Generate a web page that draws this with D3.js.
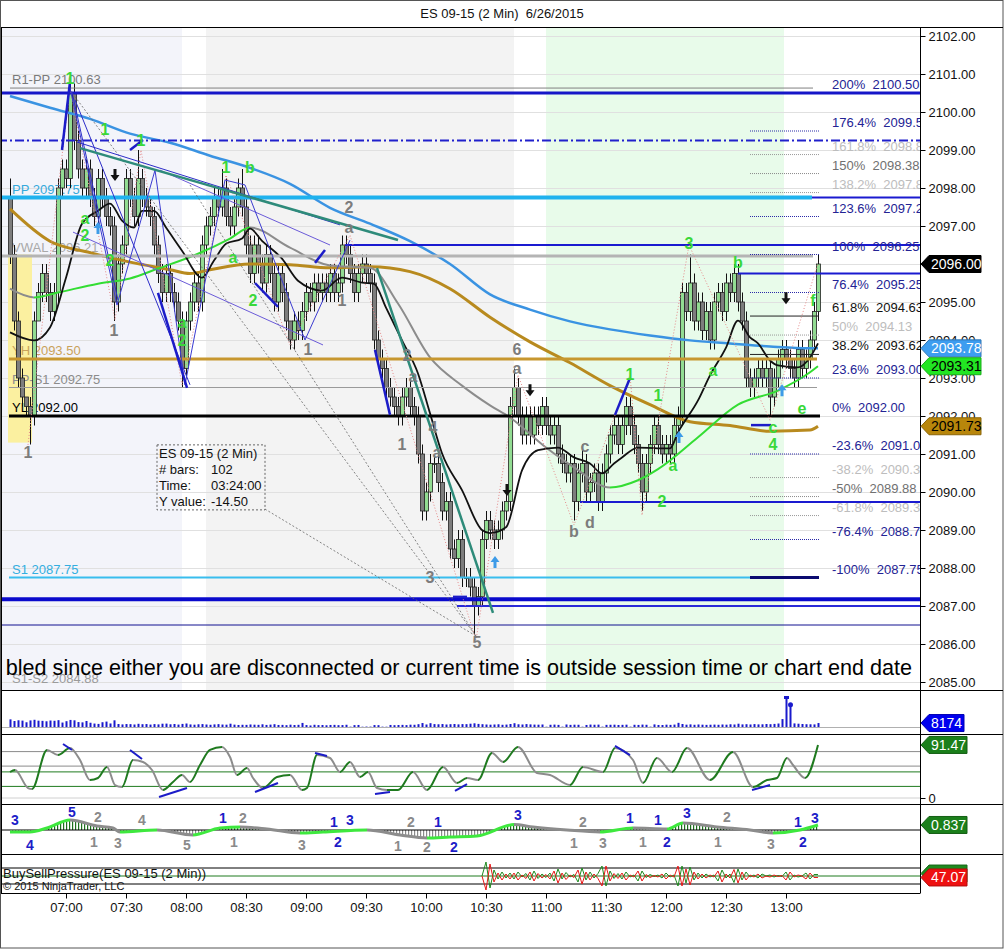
<!DOCTYPE html>
<html><head><meta charset="utf-8">
<script src="https://cdn.jsdelivr.net/npm/d3@7/dist/d3.min.js"></script>
<style>
html,body{margin:0;padding:0;background:#fff;}
svg text{font-family:"Liberation Sans",Arial,sans-serif;}
</style></head><body>
<svg id="chart" width="1004" height="949"></svg>
<script>
// ================= DATA =================
const title = "ES 09-15 (2 Min)  6/26/2015";
const firstBarTime = "06:32";
const barMinutes = 2;
const firstOpen = 2097.75;
const closes = [
2096.25,2094.5,2093.0,2092.5,2092.25,2092.0,2094.5,2095.25,2095.75,2095.25,
2094.75,2095.25,2098.0,2098.5,2098.25,2100.5,2099.25,2098.5,2098.0,2098.5,
2097.75,2097.25,2098.25,2097.75,2097.25,2097.0,2095.0,2096.0,2096.5,2098.25,
2097.75,2097.25,2098.25,2097.75,2097.5,2097.25,2096.5,2095.75,2095.25,2095.75,
2095.25,2095.0,2094.5,2093.25,2094.5,2095.0,2095.5,2095.0,2096.5,2097.0,
2097.25,2097.75,2097.5,2098.0,2097.25,2097.0,2097.5,2098.0,2097.5,2096.5,
2095.75,2096.5,2096.0,2095.5,2096.25,2095.75,2095.0,2095.75,2095.25,2094.5,
2094.0,2094.5,2094.25,2094.75,2095.25,2095.0,2095.5,2095.25,2095.5,2095.25,
2095.75,2095.25,2095.5,2096.5,2096.25,2095.75,2095.25,2095.75,2096.0,2095.75,
2095.5,2094.0,2093.5,2093.25,2092.75,2092.5,2092.25,2092.0,2092.5,2092.75,
2092.25,2092.0,2091.0,2089.5,2090.0,2090.75,2090.75,2090.25,2089.5,2089.75,
2088.5,2088.25,2088.75,2087.75,2087.75,2087.5,2087.0,2087.25,2088.75,2089.25,
2089.0,2088.75,2089.0,2089.5,2089.75,2092.25,2092.75,2092.0,2091.5,2092.0,
2091.5,2092.0,2091.75,2092.25,2091.75,2091.5,2091.75,2091.0,2090.75,2090.5,
2090.75,2089.75,2090.5,2090.75,2090.0,2090.25,2090.5,2089.75,2090.5,2091.0,
2091.5,2091.75,2091.25,2091.75,2092.25,2091.75,2091.25,2090.75,2090.0,2090.75,
2091.25,2091.75,2091.25,2091.0,2091.25,2091.0,2091.75,2092.0,2095.25,2094.75,
2095.5,2094.5,2095.0,2094.25,2094.75,2094.0,2095.0,2095.25,2094.75,2095.5,
2095.25,2095.75,2095.0,2094.5,2093.0,2092.75,2093.0,2093.25,2093.0,2093.25,
2092.5,2093.0,2093.5,2093.75,2093.5,2093.25,2093.0,2093.75,2093.25,2093.5,
2094.0,2094.75,2096.0];
const tickSize = 0.25;
const upWickTicks = [
2,1,1,1,0,1,1,1,1,1, 1,1,1,1,1,1,1,1,1,1, 1,1,1,1,1,1,1,1,1,1, 1,1,3,1,1,1,1,1,1,1,
1,1,1,1,1,1,1,1,1,1, 1,1,1,2,1,1,1,1,2,1, 1,1,1,1,1,1,1,1,1,1, 0,1,1,1,1,1,1,1,1,1,
1,1,1,1,1,1,1,1,1,1, 1,1,1,1,1,1,1,1,1,1, 1,1,1,1,1,1,1,1,1,1, 1,1,1,1,1,1,1,1,1,1,
1,1,1,1,1,1,2,1,1,1, 1,1,1,1,1,1,1,1,1,1, 1,1,1,2,1,1,1,1,1,1, 1,1,1,1,1,1,1,1,1,1,
1,1,1,1,1,1,1,1,1,1, 3,1,1,1,1,1,1,1,1,1, 1,1,1,1,1,1,1,1,1,1, 1,1,1,1,1,1,1,1,1,1, 1,1,1];
const downWickTicks = [
1,1,1,1,1,3,1,0,1,1, 1,1,1,1,1,1,1,1,1,1, 1,1,1,1,1,1,2,1,1,1, 1,1,1,1,1,1,1,1,1,1,
1,1,1,2,1,1,1,1,1,1, 1,1,1,1,1,1,1,1,1,1, 1,1,1,1,1,1,1,1,1,1, 1,1,1,1,1,1,1,1,1,1,
1,1,1,1,1,1,1,1,1,1, 1,1,1,1,1,1,1,1,1,1, 1,1,1,1,1,1,1,1,1,1, 1,1,1,1,1,1,3,1,1,1,
1,1,1,1,1,1,1,1,1,1, 1,1,1,1,1,1,1,1,1,1, 1,2,1,1,1,1,1,1,1,1, 1,1,1,1,1,1,1,1,2,1,
1,1,1,1,1,1,1,1,1,1, 1,1,1,1,1,1,1,1,1,1, 1,1,1,1,1,1,1,1,1,1, 2,1,1,1,1,1,1,1,1,1, 1,1,1];
const volumes = [
15800,12400,13900,13200,9800,13600,14900,13100,12700,11800,
13400,12900,14100,9200,12000,14600,13800,10200,9600,12400,
8800,7100,6400,9900,11200,7300,13800,6200,5400,6100,
5900,5200,6600,5800,6100,5000,6000,5400,6800,7000,
5600,6200,5000,6400,7200,5300,4800,5600,6000,5200,
4600,5400,5900,5100,4800,6800,4900,4200,4600,4400,
5200,4800,4500,5600,4300,4900,5800,4200,4400,3800,
4800,4100,4500,8400,4000,3200,4600,3900,4100,3600,
4200,4400,3800,4000,4600,700,3900,4200,600,900,
800,4000,3800,700,600,4200,3800,4100,4400,3900,
4800,4600,5800,8200,5200,7900,6000,5600,6100,5200,
5800,6200,5400,6000,5900,6800,7600,6400,5800,5200,
4800,5200,5600,4600,5000,6200,7800,5600,5200,6000,
5400,5000,4800,5200,600,4600,5000,4400,700,5200,
4400,4800,4600,600,4200,5000,4700,4900,700,4400,
4600,4800,4200,4500,4800,700,4600,4300,5000,4600,
700,5400,4200,4100,4800,4400,5000,8600,6200,4800,
5400,4600,5200,4800,4400,4700,5000,4600,5200,4800,
5600,5200,6800,5400,5800,5200,6000,5400,5600,6200,
5800,6400,7200,16400,62000,46000,7400,6800,6200,5800,
5600,5400,8174];

// moving averages (read at sample bars)
const slowMaPos = [0,10,20,30,40,50,60,70,80,90,100,110,120,130,140,150,160,170,180,190,200,202];
const slowMaVal = [2100.42,2100.11,2099.82,2099.43,2099.19,2098.85,2098.53,2098.11,2097.48,2097.06,2096.6,2096.0,2095.2,2094.8,2094.49,2094.28,2094.12,2093.99,2093.91,2093.83,2093.78,2093.78];
const goldMaPos = [0,10,20,30,40,45,50,60,70,80,90,100,110,120,130,140,150,160,170,180,190,200,202];
const goldMaVal = [2097.45,2096.6,2096.3,2096.05,2095.85,2095.75,2095.85,2096.0,2095.98,2095.9,2095.93,2095.8,2095.35,2094.6,2093.95,2093.4,2092.8,2092.3,2091.85,2091.75,2091.6,2091.63,2091.73];
const midMaPos = [0,6,12,22,30,37,47,55,60,70,80,90,97,105,113,120,125,134,141,150,157,162,172,182,192,200,202];
const midMaVal = [2095.35,2095.12,2095.25,2095.48,2095.62,2095.88,2096.27,2096.67,2096.96,2096.43,2095.96,2095.9,2094.96,2093.54,2092.8,2092.28,2091.96,2091.17,2090.65,2090.12,2090.31,2090.6,2091.44,2092.3,2092.67,2093.15,2093.31];
const fastMaPos = [0,6,10,14,18,22,25,28,31,33,36,39,43,48,51,54,58,60,63,68,72,78,83,88,91,94,98,102,105,108,113,118,120,124,128,132,137,141,145,148,151,153,157,162,165,167,172,175,179,182,185,187,190,192,197,200,202];
const fastMaVal = [2094.20,2093.99,2094.33,2095.64,2097.06,2097.40,2097.59,2097.14,2096.96,2097.40,2097.40,2096.96,2096.35,2095.64,2096.09,2096.53,2096.67,2096.93,2096.61,2096.14,2095.56,2095.30,2095.64,2095.51,2095.48,2094.85,2093.99,2093.12,2092.07,2091.02,2090.05,2089.0,2088.92,2089.07,2090.57,2091.10,2091.17,2090.91,2090.75,2090.49,2090.75,2090.91,2091.17,2091.15,2091.15,2091.57,2092.41,2093.07,2093.80,2094.51,2094.07,2093.91,2093.46,2093.33,2093.28,2093.54,2093.91];

// price axis ticks
const priceTicks = [2085,2086,2087,2088,2089,2090,2091,2092,2093,2094,2095,2096,2097,2098,2099,2100,2101,2102];

// pivots
const pivotNames = ["R1-PP","PP","VWAL","YH","PP-S1","YL","S1","S1-S2"];
const pivotPrices = [2100.63,2097.75,2096.21,2093.50,2092.75,2092.00,2087.75,2084.88];

// other horizontal drawing lines (price, starting bar position)
const hLinePrices = [2100.50,2099.25,2096.50,2095.75,2089.74,2087.18,2087.00,2086.50];
const hLineStart = [-3,-3,83.75,182,142.5,-3,111.75,-3];

// fibonacci
const fibPct = [200,176.4,161.8,150,138.2,123.6,100,76.4,61.8,50,38.2,23.6,0,-23.6,-38.2,-50,-61.8,-76.4,-100];
const fibPrice = [2100.50,2099.50,2098.88,2098.38,2097.88,2097.25,2096.25,2095.25,2094.63,2094.13,2093.62,2093.00,2092.00,2091.00,2090.38,2089.88,2089.38,2088.75,2087.75];

// wave labels
const greenLabelText = ["1","1","1","1","b","a","2","2","a","2","a","2","3","b","1","1","a","a","2","f","e","c","4"];
const greenLabelPos = [15,23.75,32.75,54,60,18.75,18.75,25,55.75,60.75,43,43,169.75,182,155,162,175.75,165.75,163,200.75,198,190.75,190.75];
const greenLabelPrice = [2100.89,2099.53,2099.26,2098.53,2098.53,2097.2,2096.76,2096.1,2096.18,2095.05,2094.47,2094.0,2096.55,2096.05,2093.08,2092.55,2093.21,2090.71,2089.74,2095.05,2092.21,2091.71,2091.24];
const grayLabelText = ["1","1","1","1","2","a","2","a","1","4","a","3","5","6","a","c","b","d"];
const grayLabelPos = [4.5,26,74.5,83,84.75,84.75,99.25,100.75,98,105.75,106.75,105,116.75,126.75,126.75,143.75,141,145];
const grayLabelPrice = [2091.03,2094.26,2093.74,2095.05,2097.5,2096.97,2093.6,2093.03,2091.24,2091.71,2091.03,2087.76,2086.03,2093.74,2093.24,2091.21,2088.95,2089.21];

// arrows
const downArrowPos = [26.25,130,124.25,194];
const downArrowPrice = [2098.34,2092.68,2090.05,2095.1];
const upArrowPos = [22,121.25,167.25,193];
const upArrowPrice = [2096.95,2088.16,2091.45,2092.68];

// trend segments [pos1, price1, pos2, price2]
const thickBlueSegs = [[13,2099.0,15,2100.79],[30,2099.0,33.25,2099.26],[37,2095.24,44.25,2092.74],[61.25,2095.5,67,2094.87],[76.25,2096.03,78.75,2096.37],[91.25,2093.74,95,2092.03],[151.25,2092.03,155,2093.0],[185.25,2091.76,190.25,2091.76],[110.75,2087.24,114.25,2087.24]];
const thinBlueSegs = [[15.5,2100.53,27,2095.05],[16.25,2100.32,45,2092.82],[16.75,2099.21,82.5,2097.03],[15.75,2096.84,78.25,2093.87],[37.5,2098.47,80,2096.5]];
const tealSegs = [[17.5,2099.05,97,2096.63],[91.75,2095.89,120.75,2086.82]];
const zigPos = [15,26.75,36.25,43.75,53.75,58.75,73.75,85];
const zigPrice = [2100.63,2094.92,2098.47,2092.82,2098.21,2098.08,2094.0,2096.63];
const swingPos = [4.5,15,26.25,32.75,43,54,70,85,116.5,127,141,155,158,169.75,190,202];
const swingPrice = [2091.24,2100.63,2094.53,2099.0,2092.82,2098.34,2093.87,2096.76,2086.1,2093.08,2089.13,2093.08,2089.39,2096.5,2091.89,2096.03];
const measureSegs = [[15,2100.58,116.5,2086.21],[63.75,2089.55,116.5,2086.21],[45,2098.08,116.5,2086.21]];

// shaded sessions
const shadeFrom = ["06:20","08:10","11:00"];
const shadeTo = ["07:58","10:44","12:59"];
const yellowBox = {from:"06:31", to:"06:43", lo:2091.3, hi:2096.25};

// info box
const infoLabels = ["ES 09-15 (2 Min)","# bars:","Time:","Y value:"];
const infoValues = ["","102","03:24:00","-14.50"];
const message = "bled since either you are disconnected or current time is outside session time or chart end date";

// oscillator panel
const oscPos = [0,1.25,4.5,5.5,9.25,12,15,17.5,20,22,24.25,26.25,28,30.75,33.25,35.5,38.25,40.75,43,45,47.5,50,53,55,56.75,59.25,60.75,63.25,66.75,70,73,74.25,76.75,80,82.5,85,87.5,89.5,91.75,94.25,97,100.75,104.25,108.25,111.75,114.25,117,120.5,123.25,127,131.75,135,140,143.25,148.25,151.25,155.75,158.25,161.75,165.5,169.25,175,180.75,185.75,189.25,191.75,194.25,195.75,198.75,202];
const oscVal = [44.8,48.3,17.2,15.5,82.8,74.1,86.2,65.5,31.0,34.5,53.4,22.4,19.0,65.5,62.1,48.3,13.8,27.6,39.7,27.6,56.9,82.8,87.9,70.7,39.7,51.7,34.5,17.2,36.2,39.7,13.8,17.2,74.1,69.0,44.8,62.1,36.2,44.8,17.2,13.8,13.8,44.8,13.8,53.4,25.9,34.5,31.0,77.6,62.1,87.9,43.1,39.7,22.4,53.4,44.8,86.2,65.5,25.9,69.0,44.8,86.2,31.0,79.3,19.0,31.0,34.5,69.0,56.9,34.5,91.47];
const oscLevels = [80,55,45,20,0];
const oscDivSegs = [[13.25,93.1,15.5,82.8],[30,82.8,33,67.2],[37.25,1.7,44.25,17.2],[61.25,10.3,67,25.9],[76.25,77.6,79.25,72.4],[91.25,6.9,95,10.3],[111.25,12.1,114.25,24.1],[151.25,89.7,155,74.1],[185.5,13.8,190,22.4]];

// fourth panel
const p4Pos = [0,5,9.25,15,21.75,25.75,27.5,36.75,45.75,52.5,57.5,64.25,72.5,78.25,89.25,97.5,104.25,110,116.75,126,130.75,139.25,147.5,155.75,164.25,168.25,176.75,185,190.75,197.5,202];
const p4Val = [-0.33,-0.33,0.33,1.67,0.67,0.33,-0.33,0,-0.83,0.33,0.5,0.17,-0.5,-0.33,0,-0.83,-1.33,-1.17,-1.0,0.9,0.5,0,-0.33,0.33,0.17,1.17,0.5,0,-0.5,0,0.837];
const p4LabelText = ["3","4","5","2","1","3","4","5","1","2","1","3","1","3","2","2","1","1","2","2","3","2","1","3","1","1","1","2","3","2","1","3","1","2","3"];
const p4LabelBlue = [1,1,1,0,0,0,0,0,1,0,0,0,1,1,1,0,1,0,0,1,1,0,0,0,1,0,1,1,1,0,0,0,1,1,1];
const p4LabelPos = [1.25,5,15.5,22,21,27,33,44.25,53.25,58.25,56,73,81,85,82,100.25,107,97,104.25,111,127,143.25,141,148.25,155,158.25,162,164.25,169.25,179.25,177,190.25,197,198.25,201.25];
const p4LabelVal = [1.67,-2.5,3.0,2.17,-2.0,-2.17,1.67,-2.5,2.0,2.0,-2.0,-2.5,1.33,1.67,-2.0,1.33,1.33,-2.67,-2.83,-2.83,2.5,1.33,-2.17,-2.17,2.0,-2.0,1.67,-2.0,2.83,2.17,-2.0,-2.33,1.33,-2.0,2.0];

// BuySellPressure (buy %), from bar 118
const bspStart = 118;
const bspBuy = [50,78,26,62,44,58,46,56,44,58, 48,55,42,60,45,54,47,56,40,64, 44,57,48,53,38,66,42,58,46,55,
 70,30,60,45,55,44,58,48,52,40, 60,47,53,49,52,46,56,48,52,30, 70,36,68,42,56,46,54,48,52,40,
 62,46,54,37,64,42,58,48,52,46, 54,50,52,48,51,49,58,42,52,48, 50,56,44,53,52.93];
const bspLevels = [66,50,34];

// ================= LAYOUT =================
const L = {left:2, right:920, top:28, priceBot:690, volBot:734, oscBot:804, p4Bot:854, bspBot:893, W:1004, H:949};
const nBars = closes.length;
const tp = s => { const [h,m] = s.split(':').map(Number); return new Date(2015,5,26,h,m); };
const t0 = tp(firstBarTime);
const xt = d3.scaleTime().domain([t0, d3.timeMinute.offset(t0, barMinutes*(nBars-1))]).range([10, 818]);
const x = d3.scaleLinear().domain([0, nBars-1]).range([10, 818]);
const y = d3.scaleLinear().domain([2085, 2102]).range([682, 36]);
const yVol = d3.scaleLinear().domain([0, 62000]).range([727, 697]);
const yOsc = d3.scaleLinear().domain([0, 100]).range([798, 740]);
const yP4 = d3.scaleLinear().domain([-4, 4]).range([854, 806]);
const yB = d3.scaleLinear().domain([0, 100]).range([901, 851]);

const svg = d3.select('#chart');
const defs = svg.append('defs');
function clip(id, x0, y0, x1, y1){ defs.append('clipPath').attr('id', id).append('rect').attr('x', x0).attr('y', y0).attr('width', x1-x0).attr('height', y1-y0); }
clip('cPrice', L.left, L.top, L.right, L.priceBot);
clip('cVol', L.left, L.priceBot+1, L.right, L.volBot);
clip('cOsc', L.left, L.volBot+1, L.right, L.oscBot);
clip('cP4', L.left, L.oscBot+1, L.right, L.p4Bot);
clip('cP4up', L.left, L.oscBot+1, L.right, yP4(0));
clip('cP4dn', L.left, yP4(0), L.right, L.p4Bot);
clip('cBsp', L.left, L.p4Bot+1, L.right, L.bspBot);

function slopeGradient(id, pos, val, up, down){
  const x0 = x(0), span = x(nBars-1) - x(0);
  const g = defs.append('linearGradient').attr('id', id).attr('gradientUnits','userSpaceOnUse')
    .attr('x1', x0).attr('x2', x0+span).attr('y1', 0).attr('y2', 0);
  for (let k=0; k<pos.length-1; k++){
    const c = val[k+1] >= val[k] ? up : down;
    g.append('stop').attr('offset', Math.max(0,(x(pos[k])-x0)/span)).attr('stop-color', c);
    g.append('stop').attr('offset', Math.min(1,(x(pos[k+1])-x0)/span)).attr('stop-color', c);
  }
}
function hatch(id, color){
  const p = defs.append('pattern').attr('id', id).attr('patternUnits','userSpaceOnUse').attr('width', 3).attr('height', 8);
  p.append('rect').attr('x',0).attr('y',0).attr('width',1.2).attr('height',8).attr('fill', color);
}
hatch('hG', '#1d6f1d'); hatch('hK', '#8a8a8a');

// title
svg.append('text').attr('x', 502).attr('y', 18).attr('text-anchor','middle').attr('font-size', 13).attr('fill','#111')
  .attr('xml:space','preserve').style('white-space','pre').text(title);

// ================= PRICE PANEL =================
const gp = svg.append('g').attr('clip-path','url(#cPrice)');
gp.append('rect').attr('x', L.left).attr('y', L.top).attr('width', L.right-L.left).attr('height', L.priceBot-L.top).attr('fill','#fff');
const shadeColors = ['#f3f4fa','#f3f3f3','#e8fbea'];
shadeFrom.forEach((f,i)=>{
  const x0 = Math.max(L.left, xt(tp(f))), x1 = xt(tp(shadeTo[i]));
  gp.append('rect').attr('x', x0).attr('y', L.top).attr('width', x1-x0).attr('height', L.priceBot-L.top).attr('fill', shadeColors[i]);
});
// grid
gp.selectAll('line.grid').data(priceTicks).join('line').attr('class','grid')
  .attr('x1', L.left).attr('x2', L.right).attr('y1', d=>y(d)+0.5).attr('y2', d=>y(d)+0.5)
  .attr('stroke','#e0e0e0').attr('stroke-width',1);
// yellow box
gp.append('rect').attr('x', xt(tp(yellowBox.from))).attr('y', y(yellowBox.hi))
  .attr('width', xt(tp(yellowBox.to))-xt(tp(yellowBox.from))).attr('height', y(yellowBox.lo)-y(yellowBox.hi)).attr('fill','#fbf0a0');

// pivot labels (behind bars)
const pivotStyle = [
  {c:'#808080', w:1, tc:'#7a7a7a', x1:813, x0:10},
  {c:'#1fb2ee', w:4, tc:'#35a9dc', x1:812, x0:2},
  {c:'#b4b4b4', w:3, tc:'#a8a8a8', x1:813, x0:2},
  {c:'#c7972f', w:3, tc:'#c9a25a', x1:817, x0:9},
  {c:'#9a9a9a', w:1, tc:'#8c8c8c', x1:817, x0:9},
  {c:'#000000', w:3, tc:'#000000', x1:820, x0:9},
  {c:'#39bdee', w:2, tc:'#33aee0', x1:750, x0:9},
  {c:'#aaaaaa', w:1, tc:'#9a9a9a', x1:0, x0:0}];
pivotNames.forEach((n,i)=>{
  gp.append('text').attr('x', 12).attr('y', y(pivotPrices[i])-4).attr('font-size', 13)
    .attr('fill', pivotStyle[i].tc).text(n+' '+pivotPrices[i].toFixed(2));
});

// candles
const bars = closes.map((c,i)=>{
  const o = i ? closes[i-1] : firstOpen;
  return {i, o, c, h: Math.max(o,c)+upWickTicks[i]*tickSize, l: Math.min(o,c)-downWickTicks[i]*tickSize};
});
const gc = gp.append('g');
gc.selectAll('line.wick').data(bars).join('line').attr('class','wick')
  .attr('x1', d=>Math.round(x(d.i))+0.5).attr('x2', d=>Math.round(x(d.i))+0.5)
  .attr('y1', d=>y(d.h)).attr('y2', d=>y(d.l)).attr('stroke','#111').attr('stroke-width',1);
gc.selectAll('rect.body').data(bars).join('rect').attr('class','body')
  .attr('x', d=>Math.round(x(d.i))-1.5).attr('width', 4)
  .attr('y', d=>y(Math.max(d.o,d.c))).attr('height', d=>Math.max(1, y(Math.min(d.o,d.c))-y(Math.max(d.o,d.c))))
  .attr('fill', d=> d.c>=d.o ? '#92dc92' : '#7d7d7d').attr('stroke','#222').attr('stroke-width',0.8);

// moving averages
const maLine = (pos,val,scale)=> d3.line().x((d,k)=>x(pos[k])).y((d,k)=>scale(val[k])).curve(d3.curveMonotoneX)(val);
gp.append('path').attr('d', maLine(goldMaPos, goldMaVal, y)).attr('fill','none').attr('stroke','#b88a1e').attr('stroke-width',3);
gp.append('path').attr('d', maLine(slowMaPos, slowMaVal, y)).attr('fill','none').attr('stroke','#3a93e2').attr('stroke-width',2.5);
slopeGradient('gMid', midMaPos, midMaVal, '#33dd33', '#8c8c8c');
gp.append('path').attr('d', maLine(midMaPos, midMaVal, y)).attr('fill','none').attr('stroke','url(#gMid)').attr('stroke-width',2);
gp.append('path').attr('d', maLine(fastMaPos, fastMaVal, y)).attr('fill','none').attr('stroke','#111').attr('stroke-width',1.8);

// pivot lines
pivotNames.forEach((n,i)=>{
  const s = pivotStyle[i]; if (s.x1<=s.x0) return;
  gp.append('line').attr('x1', s.x0).attr('x2', s.x1).attr('y1', y(pivotPrices[i])).attr('y2', y(pivotPrices[i]))
    .attr('stroke', s.c).attr('stroke-width', s.w);
});
// other horizontal lines
const hStyle = [
  {c:'#1616c8', w:3, dash:null}, {c:'#2020cc', w:2, dash:'9,3,2,3'}, {c:'#1a1ad0', w:2, dash:null},
  {c:'#1a1ad0', w:2, dash:null}, {c:'#1a1ad0', w:2, dash:null}, {c:'#0a0acc', w:4, dash:null},
  {c:'#2a2ad8', w:2, dash:null}, {c:'#101090', w:1, dash:null}];
hLinePrices.forEach((p,i)=>{
  gp.append('line').attr('x1', x(hLineStart[i])).attr('x2', L.right).attr('y1', y(p)).attr('y2', y(p))
    .attr('stroke', hStyle[i].c).attr('stroke-width', hStyle[i].w).attr('stroke-dasharray', hStyle[i].dash);
});
// PP continuation to the axis
gp.append('line').attr('x1', 812).attr('x2', L.right).attr('y1', y(pivotPrices[1])).attr('y2', y(pivotPrices[1])).attr('stroke','#1a1ad0').attr('stroke-width',2);

// fib lines
const fibStyle = ['b','b','l','g','l','b','b','b','k','l','k','b','b','b','l','g','l','b','b'];
const fibColor = {b:'#232394', k:'#111111', g:'#707070', l:'#bdbdbd'};
const fibLineColor = {b:'#2a2aa8', k:'#222', g:'#8a8a8a', l:'#9a9a9a'};
fibPrice.forEach((p,i)=>{
  if (fibPct[i]===200 || fibPct[i]===0) return;
  const st = fibStyle[i];
  const ln = gp.append('line').attr('x1', x(185)).attr('x2', x(202.25)).attr('y1', y(p)).attr('y2', y(p));
  if (fibPct[i]===-100) ln.attr('stroke','#0b0b70').attr('stroke-width',3);
  else if (st==='k') ln.attr('stroke','#222').attr('stroke-width',1);
  else ln.attr('stroke', fibLineColor[st]).attr('stroke-width',1).attr('stroke-dasharray','1,1');
});
fibPrice.forEach((p,i)=>{
  gp.append('text').attr('x', 832).attr('y', y(p)-4).attr('font-size', 13).attr('fill', fibColor[fibStyle[i]])
    .attr('xml:space','preserve').style('white-space','pre').text(fibPct[i]+'%  '+p.toFixed(2));
});

// measurement dashed lines
measureSegs.forEach(s=> gp.append('line').attr('x1', x(s[0])).attr('y1', y(s[1])).attr('x2', x(s[2])).attr('y2', y(s[3]))
  .attr('stroke','#666').attr('stroke-width',0.8).attr('stroke-dasharray','2,2'));
// swing dotted (pink)
gp.append('path').attr('d', d3.line().x((d,k)=>x(swingPos[k])).y((d,k)=>y(swingPrice[k]))(swingPrice))
  .attr('fill','none').attr('stroke','#e58a8a').attr('stroke-width',1).attr('stroke-dasharray','1,2');
// thin blue lines
thinBlueSegs.forEach((s,k)=> gp.append('line').attr('x1', x(s[0])).attr('y1', y(s[1])).attr('x2', x(s[2])).attr('y2', y(s[3]))
  .attr('stroke', k===3||k===4 ? '#6a5ad8' : '#2c2cc8').attr('stroke-width',1));
gp.append('path').attr('d', d3.line().x((d,k)=>x(zigPos[k])).y((d,k)=>y(zigPrice[k]))(zigPrice))
  .attr('fill','none').attr('stroke','#3b3bd0').attr('stroke-width',1);
tealSegs.forEach(s=> gp.append('line').attr('x1', x(s[0])).attr('y1', y(s[1])).attr('x2', x(s[2])).attr('y2', y(s[3]))
  .attr('stroke','#2e8b7a').attr('stroke-width',2.5));
thickBlueSegs.forEach(s=> gp.append('line').attr('x1', x(s[0])).attr('y1', y(s[1])).attr('x2', x(s[2])).attr('y2', y(s[3]))
  .attr('stroke','#1c1cc8').attr('stroke-width',2.5));

// arrows
function arrow(cx, cy, down, color){
  const s = down ? 1 : -1;
  const d = `M${cx-1.5},${cy-6*s} L${cx+1.5},${cy-6*s} L${cx+1.5},${cy} L${cx+4.5},${cy} L${cx},${cy+6*s} L${cx-4.5},${cy} L${cx-1.5},${cy} Z`;
  gp.append('path').attr('d', d).attr('fill', color);
}
downArrowPos.forEach((p,i)=> arrow(x(p), y(downArrowPrice[i]), true, '#111'));
upArrowPos.forEach((p,i)=> arrow(x(p), y(upArrowPrice[i]), false, '#3d9be8'));

// wave labels
greenLabelText.forEach((t,i)=> gp.append('text').attr('x', x(greenLabelPos[i])).attr('y', y(greenLabelPrice[i]))
  .attr('text-anchor','middle').attr('dominant-baseline','central').attr('font-size',16).attr('font-weight','bold').attr('fill','#3ad83a').text(t));
grayLabelText.forEach((t,i)=> gp.append('text').attr('x', x(grayLabelPos[i])).attr('y', y(grayLabelPrice[i]))
  .attr('text-anchor','middle').attr('dominant-baseline','central').attr('font-size',16).attr('font-weight','bold').attr('fill','#7c7c7c').text(t));

// info box
const ib = gp.append('g').attr('transform', `translate(${xt(tp('07:45'))+1},${y(2091.24)})`);
ib.append('rect').attr('x',0).attr('y',0).attr('width',108).attr('height',65).attr('fill','none').attr('stroke','#666').attr('stroke-dasharray','2,2');
infoLabels.forEach((t,i)=>{
  ib.append('text').attr('x',2).attr('y', 13+i*16).attr('font-size',13).attr('fill','#111').text(t);
  if (infoValues[i]) ib.append('text').attr('x',54).attr('y', 13+i*16).attr('font-size',13).attr('fill','#111').text(infoValues[i]);
});

// message
gp.append('text').attr('x', 912).attr('y', 675).attr('text-anchor','end').attr('font-size', 21.6).attr('fill','#000').text(message);

// ================= VOLUME PANEL =================
const gv = svg.append('g').attr('clip-path','url(#cVol)');
gv.append('line').attr('x1',L.left).attr('x2',L.right).attr('y1',727.5).attr('y2',727.5).attr('stroke','#b0b0b0');
gv.selectAll('rect').data(volumes).join('rect').attr('x',(d,i)=>Math.round(x(i))-0.5).attr('width',2)
  .attr('y', d=>yVol(d)).attr('height', d=>yVol(0)-yVol(d)).attr('fill','#1a1acc');
const vmax = d3.maxIndex(volumes);
gv.append('rect').attr('x', Math.round(x(vmax))-2).attr('y', yVol(volumes[vmax])-1).attr('width',5).attr('height',3).attr('fill','#1a1acc');
gv.append('circle').attr('cx', Math.round(x(vmax+1))+0.5).attr('cy', yVol(volumes[vmax+1])).attr('r',2.5).attr('fill','#1a1acc');

// ================= OSC PANEL =================
const go = svg.append('g').attr('clip-path','url(#cOsc)');
const oscLevelColor = ['#8a8a8a','#8a8a8a','#1f7a1f','#1f7a1f','#d0d0d0'];
oscLevels.forEach((v,i)=> go.append('line').attr('x1',L.left).attr('x2',L.right).attr('y1',yOsc(v)).attr('y2',yOsc(v)).attr('stroke',oscLevelColor[i]).attr('stroke-width',1));
slopeGradient('gOsc', oscPos, oscVal, '#1f7a1f', '#8c8c8c');
go.append('path').attr('d', maLine(oscPos, oscVal, yOsc)).attr('fill','none').attr('stroke','url(#gOsc)').attr('stroke-width',2);
oscDivSegs.forEach(s=> go.append('line').attr('x1',x(s[0])).attr('y1',yOsc(s[1])).attr('x2',x(s[2])).attr('y2',yOsc(s[3])).attr('stroke','#1c1cc8').attr('stroke-width',2));

// ================= P4 PANEL =================
const g4 = svg.append('g').attr('clip-path','url(#cP4)');
const p4Area = d3.area().x((d,k)=>x(p4Pos[k])).y0(yP4(0)).y1((d,k)=>yP4(p4Val[k])).curve(d3.curveMonotoneX)(p4Val);
g4.append('path').attr('d', p4Area).attr('fill','url(#hG)').attr('clip-path','url(#cP4up)');
g4.append('path').attr('d', p4Area).attr('fill','url(#hK)').attr('clip-path','url(#cP4dn)');
g4.append('line').attr('x1',L.left).attr('x2',L.right).attr('y1',yP4(0)).attr('y2',yP4(0)).attr('stroke','#000');
slopeGradient('gP4', p4Pos, p4Val, '#3ee83e', '#8c8c8c');
g4.append('path').attr('d', maLine(p4Pos, p4Val, yP4)).attr('fill','none').attr('stroke','url(#gP4)').attr('stroke-width',3);
p4LabelText.forEach((t,i)=> g4.append('text').attr('x', x(p4LabelPos[i])).attr('y', yP4(p4LabelVal[i]))
  .attr('text-anchor','middle').attr('dominant-baseline','central').attr('font-size',14).attr('font-weight','bold')
  .attr('fill', p4LabelBlue[i] ? '#1c1cc8' : '#8a8a8a').text(t));

// ================= BSP PANEL =================
const gb = svg.append('g').attr('clip-path','url(#cBsp)');
const bspLevelColor = ['#000','#1f7a1f','#000'];
bspLevels.forEach((v,i)=> gb.append('line').attr('x1',L.left).attr('x2',L.right).attr('y1',yB(v)).attr('y2',yB(v)).attr('stroke',bspLevelColor[i]).attr('stroke-width',1));
const bLine = f => d3.line().x((d,k)=>x(bspStart+k)).y((d,k)=>yB(f(d)))(bspBuy);
gb.append('path').attr('d', bLine(d=>d)).attr('fill','none').attr('stroke','#1f8a1f').attr('stroke-width',1);
gb.append('path').attr('d', bLine(d=>100-d)).attr('fill','none').attr('stroke','#e81818').attr('stroke-width',1);
svg.append('text').attr('x',3).attr('y',878).attr('font-size',13).attr('fill','#111').text('BuySellPressure(ES 09-15 (2 Min))');
svg.append('text').attr('x',3).attr('y',890).attr('font-size',11).attr('fill','#111').text('\u00a9 2015 NinjaTrader, LLC');

// ================= FRAMES & AXES =================
const frame = svg.append('g').attr('stroke','#000').attr('stroke-width',1);
frame.append('rect').attr('x',0.5).attr('y',0.5).attr('width',1002.5).attr('height',947.5).attr('fill','none').attr('stroke','#555');
[27.5, 690.5, 734.5, 804.5, 854.5].forEach(v=> frame.append('line').attr('x1',1).attr('x2',1003).attr('y1',v).attr('y2',v));
frame.append('line').attr('x1',1).attr('x2',L.right).attr('y1',893.5).attr('y2',893.5);
frame.append('line').attr('x1',L.right+0.5).attr('x2',L.right+0.5).attr('y1',27).attr('y2',893.5);
frame.append('line').attr('x1',1.5).attr('x2',1.5).attr('y1',27).attr('y2',893.5);

const ax = svg.append('g').attr('transform',`translate(${L.right+0.5},0)`)
  .call(d3.axisRight(y).tickValues(priceTicks).tickFormat(d3.format('.2f')).tickSize(5));
ax.select('.domain').remove();
ax.selectAll('text').attr('font-size',13).attr('fill','#111').style('font-family','"Liberation Sans",Arial,sans-serif');
const ax2 = svg.append('g').attr('transform',`translate(${L.right+0.5},0)`)
  .call(d3.axisRight(yOsc).tickValues([0]).tickSize(5));
ax2.select('.domain').remove();
ax2.selectAll('text').attr('font-size',13).attr('fill','#111').style('font-family','"Liberation Sans",Arial,sans-serif');

const axt = svg.append('g').attr('transform',`translate(0,${L.bspBot+0.5})`)
  .call(d3.axisBottom(xt).ticks(d3.timeMinute.every(30)).tickFormat(d3.timeFormat('%H:%M')).tickSize(5).tickPadding(4));
axt.select('.domain').remove();
axt.selectAll('text').attr('font-size',13).attr('fill','#111').style('font-family','"Liberation Sans",Arial,sans-serif');

// value markers
function marker(yc, text, bg, fg, w){
  const g = svg.append('g');
  g.append('path').attr('d',`M${L.right+1},${yc} L${L.right+9},${yc-8.5} L${L.right+1+w},${yc-8.5} L${L.right+1+w},${yc+8.5} L${L.right+9},${yc+8.5} Z`)
    .attr('fill', bg).attr('stroke', d3.color(bg).darker(0.8)).attr('stroke-width',1);
  g.append('text').attr('x', L.right+11).attr('y', yc).attr('dominant-baseline','central').attr('font-size',14).attr('fill', fg).text(text);
}
const f2 = d3.format('.2f');
marker(y(closes[nBars-1]), f2(closes[nBars-1]), '#000', '#fff', 60);
marker(y(slowMaVal[slowMaVal.length-1]), f2(slowMaVal[slowMaVal.length-1]), '#3d9df0', '#fff', 60);
marker(y(midMaVal[midMaVal.length-1]), f2(midMaVal[midMaVal.length-1]), '#22e622', '#000', 60);
marker(y(goldMaVal[goldMaVal.length-1]), f2(goldMaVal[goldMaVal.length-1]), '#b8860b', '#000', 60);
marker(yVol(volumes[nBars-1]), String(volumes[nBars-1]), '#0000ee', '#fff', 43);
marker(yOsc(oscVal[oscVal.length-1]), f2(oscVal[oscVal.length-1]), '#1b7f1b', '#fff', 46);
marker(yP4(p4Val[p4Val.length-1]), d3.format('.3f')(p4Val[p4Val.length-1]), '#1b7f1b', '#fff', 46);
const lastBuy = bspBuy[bspBuy.length-1];
marker(yB(lastBuy)-1, f2(lastBuy), '#1f8a1f', '#fff', 46);
marker(yB(100-lastBuy), f2(100-lastBuy), '#ee1111', '#fff', 46);
</script></body></html>
